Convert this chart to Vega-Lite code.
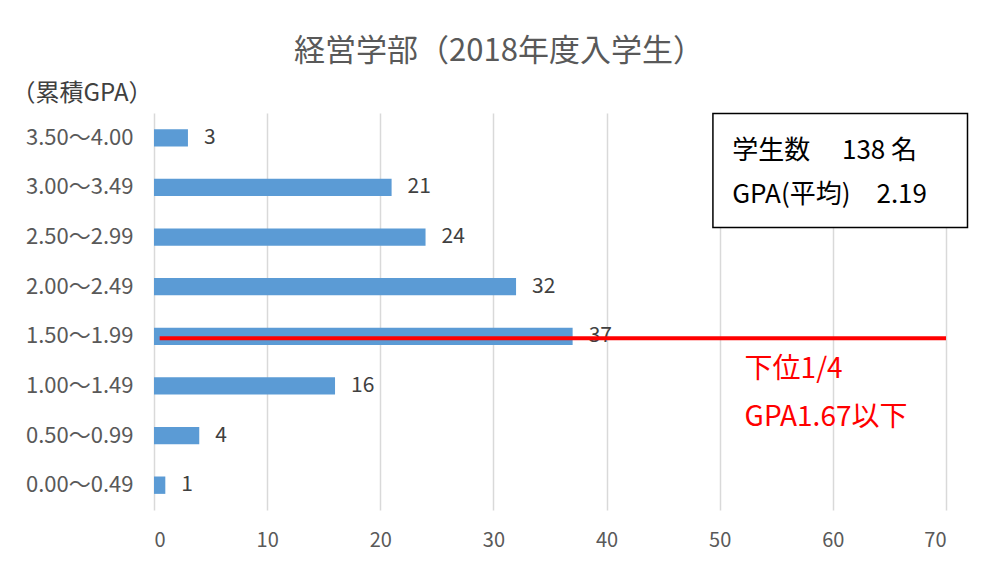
{
  "$schema": "https://vega.github.io/schema/vega-lite/v6.json",
  "autosize": {"type": "none"},
  "padding": {"left": 154, "top": 113, "right": 36, "bottom": 55},
  "width": 792,
  "height": 397,
  "background": "white",
  "config": {"font": "Noto Sans CJK JP", "view": {"stroke": null}},
  "title": {"text": "経営学部（2018年度入学生）", "fontSize": 31, "fontWeight": "normal", "color": "#595959", "anchor": "middle", "frame": "group", "dx": -51, "offset": 13},
  "encoding": {
    "y": {"field": "gpa", "type": "nominal", "sort": null,
      "scale": {"domain": ["3.50～4.00","3.00～3.49","2.50～2.99","2.00～2.49","1.50～1.99","1.00～1.49","0.50～0.99","0.00～0.49"], "paddingInner": 0.65, "paddingOuter": 0.325},
      "axis": {"domain": false, "ticks": false, "labelPadding": 21, "labelFontSize": 22, "labelColor": "#595959", "title": "（累積GPA）", "titleAngle": 0, "titleAlign": "left", "titleBaseline": "middle", "titleX": -143, "titleY": -20, "titleFontSize": 24, "titleFontWeight": "normal", "titleColor": "#404040"}}
  },
  "layer": [
    {
      "data": {"values": [
        {"gpa": "3.50～4.00", "count": 3},
        {"gpa": "3.00～3.49", "count": 21},
        {"gpa": "2.50～2.99", "count": 24},
        {"gpa": "2.00～2.49", "count": 32},
        {"gpa": "1.50～1.99", "count": 37},
        {"gpa": "1.00～1.49", "count": 16},
        {"gpa": "0.50～0.99", "count": 4},
        {"gpa": "0.00～0.49", "count": 1}
      ]},
      "layer": [
        {"mark": {"type": "bar", "color": "#5b9bd5"},
         "encoding": {"x": {"field": "count", "type": "quantitative", "scale": {"domain": [0, 70], "nice": false},
           "axis": {"values": [0,10,20,30,40,50,60,70], "grid": true, "gridColor": "#d9d9d9", "gridWidth": 1.5, "domain": false, "ticks": false, "labelPadding": 20, "labelFontSize": 20, "labelColor": "#595959", "title": null}}}},
        {"mark": {"type": "text", "align": "left", "dx": 16, "fontSize": 21, "color": "#404040"},
         "encoding": {"x": {"field": "count", "type": "quantitative", "scale": {"domain": [0, 70], "nice": false}}, "text": {"field": "count"}}}
      ]
    },
    {
      "data": {"values": [{"gpa": "1.50～1.99", "start": 0.5, "end": 70}]},
      "mark": {"type": "rule", "color": "#ff0000", "strokeWidth": 4, "yOffset": 2},
      "encoding": {"x": {"field": "start", "type": "quantitative", "scale": {"domain": [0, 70], "nice": false}}, "x2": {"field": "end"}}
    },
    {
      "data": {"values": [{"gpa": "3.00～3.49", "start": 49.4, "end": 71.9}]},
      "mark": {"type": "bar", "fill": "white", "stroke": "black", "strokeWidth": 1.5, "height": 114, "yOffset": -17},
      "encoding": {"x": {"field": "start", "type": "quantitative", "scale": {"domain": [0, 70], "nice": false}}, "x2": {"field": "end"}}
    },
    {
      "data": {"values": [{"gpa": "3.50～4.00", "pos": 51.1, "label": "学生数　 138 名"}]},
      "mark": {"type": "text", "align": "left", "fontSize": 26, "color": "#000000", "dy": 13},
      "encoding": {"x": {"field": "pos", "type": "quantitative", "scale": {"domain": [0, 70], "nice": false}}, "text": {"field": "label"}}
    },
    {
      "data": {"values": [{"gpa": "3.00～3.49", "pos": 51.1, "label": "GPA(平均)　2.19"}]},
      "mark": {"type": "text", "align": "left", "fontSize": 26, "color": "#000000", "dy": 8},
      "encoding": {"x": {"field": "pos", "type": "quantitative", "scale": {"domain": [0, 70], "nice": false}}, "text": {"field": "label"}}
    },
    {
      "data": {"values": [{"gpa": "1.00～1.49", "pos": 52.2, "label": "下位1/4"}]},
      "mark": {"type": "text", "align": "left", "fontSize": 28, "color": "#ff0000", "dy": -16},
      "encoding": {"x": {"field": "pos", "type": "quantitative", "scale": {"domain": [0, 70], "nice": false}}, "text": {"field": "label"}}
    },
    {
      "data": {"values": [{"gpa": "0.50～0.99", "pos": 52.2, "label": "GPA1.67以下"}]},
      "mark": {"type": "text", "align": "left", "fontSize": 28, "color": "#ff0000", "dy": -18},
      "encoding": {"x": {"field": "pos", "type": "quantitative", "scale": {"domain": [0, 70], "nice": false}}, "text": {"field": "label"}}
    }
  ]
}
